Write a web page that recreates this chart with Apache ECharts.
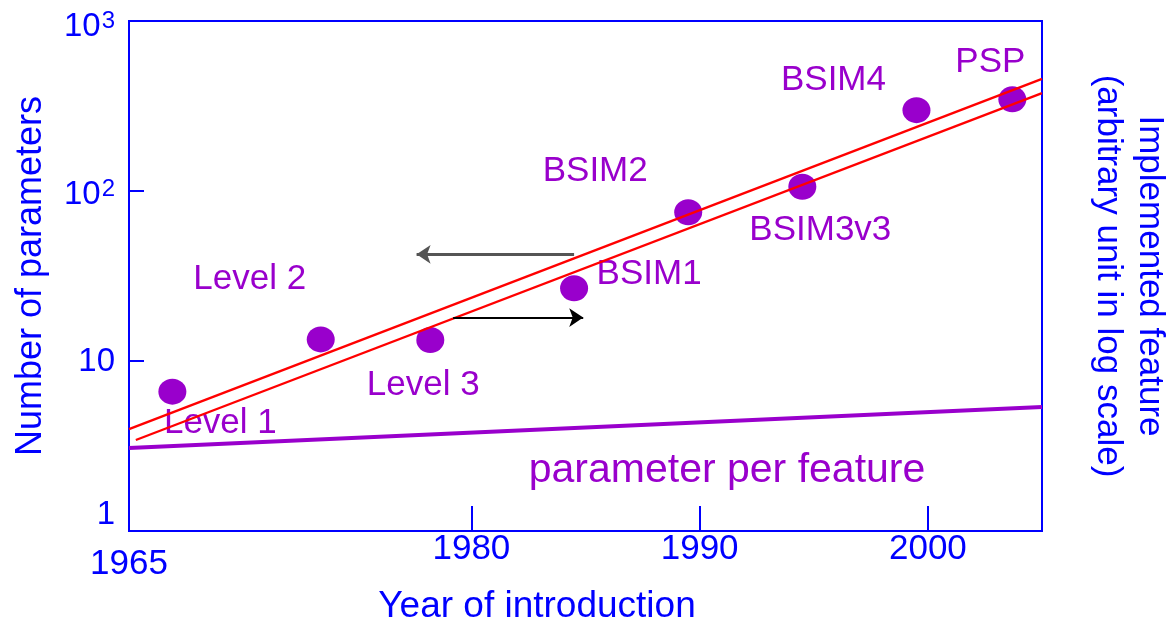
<!DOCTYPE html>
<html>
<head>
<meta charset="utf-8">
<script src="https://cdn.jsdelivr.net/npm/echarts@6/dist/echarts.min.js"></script>
<style>
  html, body { margin: 0; padding: 0; background: #ffffff; }
  #chart { width: 1170px; height: 621px; }
</style>
</head>
<body>
<div id="chart"></div>
<script>
// Compact MOSFET models: year of introduction vs. number of parameters
const modelNames = ['Level 1', 'Level 2', 'Level 3', 'BSIM1', 'BSIM2', 'BSIM3v3', 'BSIM4', 'PSP'];
const modelYears = [1966.9, 1973.4, 1978.2, 1984.5, 1989.5, 1994.5, 1999.5, 2003.7];
const paramCounts = [6.6, 13.4, 13.3, 26.8, 75, 106, 299, 346];

// label placement relative to each dot (px)
const labelOffsets = [[48, 32], [-71, -60], [-7, 45], [75, -14], [-93, -41], [18, 44], [-83, -30], [-22, -37]];

// trend lines (year, value)
const trendUpper = [[1965, 3.98], [2005, 456]];
const trendLower = [[1965.3, 3.43], [2005, 377]];
const perFeatureLine = [[1965, 3.08], [2005, 5.36]];
const perFeatureLabelAt = [1991.2, 2.25];

// axis-direction arrows
const arrowLeft = [[1984.5, 42.4], [1977.6, 42.4]];
const arrowRight = [[1979.2, 18.0], [1984.9, 18.0]];

// tick labels
const xTickYears = [1965, 1980, 1990, 2000];
const xTickMarks = [1980, 1990, 2000];
const yTickValues = [1, 10, 100, 1000];
const yTickBase = ['1', '10', '10', '10'];
const yTickExp = ['', '', '2', '3'];

const BLUE = '#0000ff';
const PURPLE = '#9900cc';
const RED = '#ff0000';
const FONT = "'Liberation Sans', Arial, sans-serif";

const chart = echarts.init(document.getElementById('chart'), null, { renderer: 'canvas' });

const yRich = {
  y0: { fontSize: 33, fontFamily: FONT, color: BLUE, padding: [0, 0, 32, 0] },
  y1: { fontSize: 33, fontFamily: FONT, color: BLUE, padding: [2, 0, 0, 0] },
  y2: { fontSize: 33, fontFamily: FONT, color: BLUE, padding: [8, 0, 0, 0] },
  y3: { fontSize: 33, fontFamily: FONT, color: BLUE, padding: [12, 0, 0, 0] },
  s2: { fontSize: 24, fontFamily: FONT, color: BLUE, verticalAlign: 'top', padding: [7, 0, 0, 1] },
  s3: { fontSize: 24, fontFamily: FONT, color: BLUE, verticalAlign: 'top', padding: [11, 0, 0, 1] }
};

const option = {
  backgroundColor: '#ffffff',
  animation: false,
  grid: {
    left: 129, right: 128, top: 21, bottom: 90,
    containLabel: false, outerBoundsMode: 'none',
    show: true, borderColor: BLUE, borderWidth: 2, backgroundColor: '#ffffff'
  },
  xAxis: {
    type: 'value', min: 1965, max: 2005,
    name: 'Year of introduction',
    nameLocation: 'middle', nameGap: 57,
    nameTextStyle: { fontSize: 37, fontFamily: FONT, color: BLUE, padding: [0, 97, 0, 0] },
    axisLine: { show: true, lineStyle: { color: BLUE, width: 2 } },
    axisTick: { show: true, inside: true, length: 25, customValues: xTickMarks, lineStyle: { color: BLUE, width: 2 } },
    axisLabel: {
      customValues: xTickYears, margin: 1,
      formatter: v => (v === 1965 ? '{low|' + v + '}' : '{n|' + v + '}'),
      rich: {
        n: { fontSize: 35, fontFamily: FONT, color: BLUE },
        low: { fontSize: 35, fontFamily: FONT, color: BLUE, padding: [15, 0, 0, 0] }
      }
    },
    splitLine: { show: false }
  },
  yAxis: [
    {
      type: 'log', logBase: 10, min: 1, max: 1000,
      name: 'Number of parameters',
      nameLocation: 'middle', nameGap: 80,
      nameTextStyle: { fontSize: 36, fontFamily: FONT, color: BLUE },
      axisLine: { show: true, lineStyle: { color: BLUE, width: 2 } },
      axisTick: { show: true, inside: true, length: 15, lineStyle: { color: BLUE, width: 2 } },
      axisLabel: {
        margin: 14,
        formatter: v => {
          const i = yTickValues.findIndex(t => Math.abs(t - v) < 1e-6 * t);
          if (i < 0) return '';
          const base = '{y' + i + '|' + yTickBase[i] + '}';
          return yTickExp[i] ? base + '{s' + i + '|' + yTickExp[i] + '}' : base;
        },
        rich: yRich
      },
      splitLine: { show: false },
      minorTick: { show: false }
    },
    {
      type: 'log', logBase: 10, min: 1, max: 1000, position: 'right',
      name: 'Implemented feature\n(arbitrary unit in log scale)',
      nameLocation: 'middle', nameRotate: -90, nameGap: 45,
      nameTextStyle: { fontSize: 35, fontFamily: FONT, color: BLUE, lineHeight: 42 },
      axisLine: { show: true, lineStyle: { color: BLUE, width: 2 } },
      axisTick: { show: false },
      axisLabel: { show: false },
      splitLine: { show: false }
    }
  ],
  series: [
    {
      name: 'parameter per feature',
      type: 'line',
      data: perFeatureLine,
      symbol: 'none',
      lineStyle: { color: PURPLE, width: 4 },
      z: 2,
      markPoint: {
        symbol: 'circle', symbolSize: 0,
        data: [{ coord: perFeatureLabelAt, value: 0 }],
        label: {
          show: true, position: 'inside', formatter: 'parameter per feature',
          fontSize: 41, fontFamily: FONT, color: PURPLE
        }
      }
    },
    {
      name: 'models',
      type: 'scatter',
      symbol: 'circle',
      symbolSize: [28, 26],
      itemStyle: { color: PURPLE, opacity: 1 },
      z: 3,
      label: {
        show: true, position: 'inside',
        formatter: p => p.name,
        fontSize: 35, fontFamily: FONT, color: PURPLE
      },
      data: modelNames.map((n, i) => ({
        name: n,
        value: [modelYears[i], paramCounts[i]],
        label: { offset: labelOffsets[i] }
      }))
    },
    {
      name: 'trend upper', type: 'line', data: trendUpper, symbol: 'none',
      lineStyle: { color: RED, width: 2.4 }, z: 4
    },
    {
      name: 'trend lower', type: 'line', data: trendLower, symbol: 'none',
      lineStyle: { color: RED, width: 2.4 }, z: 4
    },
    {
      name: 'arrows', type: 'lines', coordinateSystem: 'cartesian2d',
      symbol: ['none', 'arrow'], symbolSize: [12, 14],
      z: 5,
      data: [
        { coords: arrowLeft, lineStyle: { color: '#555555', width: 3 } },
        { coords: arrowRight, lineStyle: { color: '#000000', width: 2 } }
      ],
      lineStyle: { opacity: 1 }
    }
  ]
};

chart.setOption(option);
</script>
</body>
</html>
